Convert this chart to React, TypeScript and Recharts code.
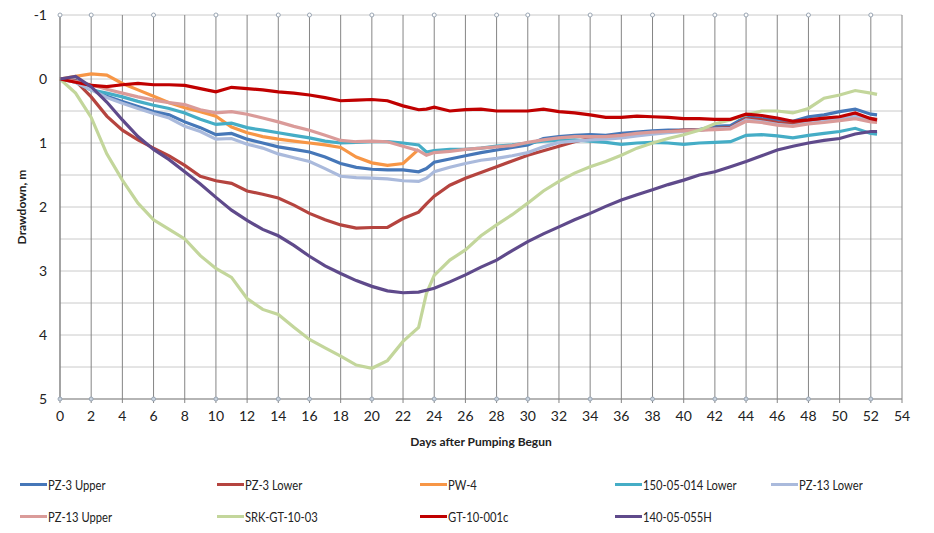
import { CartesianGrid, Line, LineChart, ReferenceDot, XAxis, YAxis } from "recharts";

// Sample days (23.5 added to catch the step when the pump stopped)
const days = [
  0, 1, 2, 3, 4, 5, 6, 7, 8, 9, 10, 11, 12, 13, 14, 15, 16, 17, 18, 19, 20, 21, 22, 23, 23.5,
  24, 25, 26, 27, 28, 29, 30, 31, 32, 33, 34, 35, 36, 37, 38, 39, 40, 41, 42, 43, 44, 45, 46,
  47, 48, 49, 50, 51, 52, 52.4,
];

// Drawdown in metres, one value per entry of `days`
const pz3Upper = [
  0, 0.02, 0.15, 0.27, 0.35, 0.43, 0.51, 0.56, 0.67, 0.76, 0.87, 0.85, 0.94, 1.0, 1.06, 1.1, 1.14,
  1.22, 1.32, 1.38, 1.41, 1.42, 1.42, 1.45, 1.4, 1.3, 1.25, 1.2, 1.15, 1.11, 1.07, 1.03, 0.93, 0.9,
  0.88, 0.87, 0.88, 0.85, 0.83, 0.81, 0.8, 0.8, 0.79, 0.74, 0.73, 0.59, 0.62, 0.64, 0.66, 0.59, 0.56,
  0.51, 0.47, 0.55, 0.56,
];
const pz3Lower = [
  0, 0.03, 0.28, 0.58, 0.8, 0.95, 1.08, 1.2, 1.35, 1.52, 1.59, 1.63, 1.75, 1.8, 1.86, 1.97, 2.1, 2.2,
  2.28, 2.33, 2.32, 2.32, 2.18, 2.08, 1.95, 1.83, 1.66, 1.55, 1.46, 1.37, 1.28, 1.19, 1.12, 1.05,
  0.98, 0.93, 0.9, 0.88, 0.86, 0.84, 0.82, 0.8, 0.8, 0.77, 0.76, 0.62, 0.64, 0.68, 0.7, 0.66, 0.63,
  0.6, 0.56, 0.62, 0.63,
];
const pw4 = [
  0, -0.04, -0.08, -0.06, 0.07, 0.17, 0.27, 0.37, 0.45, 0.51, 0.58, 0.75, 0.84, 0.9, 0.94, 0.97, 1.0,
  1.03, 1.07, 1.22, 1.31, 1.35, 1.32, 1.1,
];
const lower150 = [
  0, 0.05, 0.17, 0.22, 0.28, 0.35, 0.41, 0.46, 0.53, 0.63, 0.71, 0.69, 0.76, 0.8, 0.84, 0.88, 0.92,
  0.97, 1.0, 0.99, 0.98, 0.98, 1.0, 1.03, 1.14, 1.12, 1.1, 1.1, 1.08, 1.05, 1.03, 1.0, 0.97, 0.96,
  0.95, 0.97, 0.99, 1.02, 1.0, 0.99, 1.0, 1.02, 1.0, 0.99, 0.98, 0.88, 0.87, 0.89, 0.92, 0.88, 0.85,
  0.82, 0.77, 0.85, 0.86,
];
const pz13Lower = [
  0, 0.05, 0.17, 0.29, 0.38, 0.46, 0.54, 0.61, 0.74, 0.82, 0.94, 0.93, 1.02, 1.08, 1.17, 1.23, 1.29,
  1.4, 1.52, 1.54, 1.55, 1.56, 1.59, 1.6, 1.55, 1.45, 1.38, 1.32, 1.27, 1.24, 1.2, 1.15, 1.06, 0.99,
  0.97, 0.95, 0.94, 0.92, 0.89, 0.86, 0.84, 0.82, 0.8, 0.78, 0.77, 0.64, 0.67, 0.71, 0.73, 0.69,
  0.66, 0.62, 0.58, 0.64, 0.66,
];
const pz13Upper = [
  0, 0.04, 0.09, 0.16, 0.22, 0.28, 0.33, 0.37, 0.4, 0.48, 0.53, 0.51, 0.55, 0.61, 0.67, 0.74, 0.8,
  0.88, 0.96, 0.98, 0.97, 0.98, 1.05, 1.12, 1.19, 1.15, 1.13, 1.1, 1.08, 1.06, 1.04, 0.99, 0.95,
  0.92, 0.9, 0.9, 0.9, 0.88, 0.85, 0.83, 0.82, 0.81, 0.8, 0.79, 0.78, 0.66, 0.68, 0.72, 0.74, 0.7,
  0.68, 0.65, 0.62, 0.67, 0.68,
];
const srkGt1003 = [
  0, 0.22, 0.6, 1.17, 1.58, 1.94, 2.2, 2.35, 2.5, 2.76, 2.96, 3.1, 3.43, 3.6, 3.68, 3.88, 4.07, 4.2,
  4.33, 4.47, 4.52, 4.4, 4.1, 3.88, 3.35, 3.07, 2.83, 2.67, 2.45, 2.28, 2.12, 1.94, 1.75, 1.6, 1.47,
  1.37, 1.29, 1.19, 1.08, 1.0, 0.93, 0.87, 0.8, 0.7, 0.64, 0.56, 0.5, 0.5, 0.53, 0.46, 0.3, 0.25,
  0.18, 0.22, 0.24,
];
const gt10001c = [
  0, 0.05, 0.1, 0.12, 0.09, 0.07, 0.09, 0.09, 0.1, 0.15, 0.2, 0.13, 0.15, 0.17, 0.2, 0.22, 0.25,
  0.29, 0.34, 0.33, 0.32, 0.34, 0.42, 0.48, 0.47, 0.44, 0.5, 0.48, 0.47, 0.5, 0.5, 0.5, 0.47, 0.51,
  0.53, 0.56, 0.6, 0.6, 0.58, 0.59, 0.6, 0.62, 0.62, 0.63, 0.63, 0.55, 0.57, 0.61, 0.66, 0.64, 0.61,
  0.59, 0.53, 0.62, 0.64,
];
const well140055H = [
  0, -0.04, 0.12, 0.36, 0.64, 0.9, 1.1, 1.26, 1.45, 1.64, 1.85, 2.05, 2.21, 2.35, 2.45, 2.6, 2.77,
  2.92, 3.04, 3.15, 3.24, 3.31, 3.34, 3.33, 3.3, 3.27, 3.17, 3.06, 2.94, 2.83, 2.68, 2.54, 2.42,
  2.31, 2.2, 2.1, 1.99, 1.89, 1.81, 1.73, 1.65, 1.58, 1.5, 1.45, 1.37, 1.29, 1.2, 1.11, 1.05, 1.0,
  0.96, 0.93, 0.86, 0.82, 0.82,
];

const xTicks = [0, 2, 4, 6, 8, 10, 12, 14, 16, 18, 20, 22, 24, 26, 28, 30, 32, 34, 36, 38, 40, 42, 44, 46, 48, 50, 52, 54];
const yTicks = [-1, 0, 1, 2, 3, 4, 5];
const yGrid = [-1, -0.5, 0, 0.5, 1, 1.5, 2, 2.5, 3, 3.5, 4, 4.5, 5];
// days where the border carries a small marker
const markerDays = [0, 2, 6, 10, 14, 16, 20, 24, 28, 30, 34, 38, 42, 44, 48, 52];

const series = [
  { key: "pz3Upper", name: "PZ-3 Upper", color: "#4677b8", values: pz3Upper },
  { key: "pz3Lower", name: "PZ-3 Lower", color: "#b5443f", values: pz3Lower },
  { key: "pw4", name: "PW-4", color: "#f79646", values: pw4 },
  { key: "lower150", name: "150-05-014 Lower", color: "#45adc6", values: lower150 },
  { key: "pz13Lower", name: "PZ-13 Lower", color: "#aabadc", values: pz13Lower },
  { key: "pz13Upper", name: "PZ-13 Upper", color: "#da9b99", values: pz13Upper },
  { key: "srk", name: "SRK-GT-10-03", color: "#c3d69b", values: srkGt1003 },
  { key: "gt", name: "GT-10-001c", color: "#c00000", values: gt10001c },
  { key: "w140", name: "140-05-055H", color: "#5f4a8b", values: well140055H },
];

const data = days.map((day, i) => {
  const row: Record<string, number | null> = { day };
  series.forEach((s) => {
    row[s.key] = i < s.values.length ? s.values[i] : null;
  });
  return row;
});

const font = "Lato, 'Open Sans', sans-serif";
const legendCols = [20, 217, 420, 615, 771];

function LegendBlock() {
  return (
    <div style={{ position: "absolute", left: 0, top: 474, width: 934, height: 60, fontFamily: font, fontSize: 14, color: "#222" }}>
      {series.map((s, i) => (
        <div
          key={s.key}
          style={{
            position: "absolute",
            left: legendCols[i % 5],
            top: i < 5 ? 0 : 32,
            display: "flex",
            alignItems: "center",
            height: 20,
          }}
        >
          <span style={{ display: "inline-block", width: 27, height: 3, background: s.color, marginRight: 1 }} />
          {/* condensed label text */}
          <span style={{ display: "inline-block", transform: "scaleX(0.8)", transformOrigin: "left center", whiteSpace: "nowrap" }}>
            {s.name}
          </span>
        </div>
      ))}
    </div>
  );
}

export default function App() {
  return (
    <div style={{ position: "absolute", left: 0, top: 0, width: 934, height: 533, background: "#fff" }}>
      <LineChart width={934} height={474} data={data} margin={{ top: 15, right: 32, bottom: 15, left: 0 }}>
        <CartesianGrid horizontal={true} vertical={false} horizontalValues={yGrid} stroke="#cacaca" />
        <CartesianGrid horizontal={false} vertical={true} verticalValues={xTicks} stroke="#858585" />
        <XAxis
          dataKey="day"
          type="number"
          domain={[0, 54]}
          ticks={xTicks}
          interval={0}
          stroke="#858585"
          tickSize={4}
          tickMargin={8}
          height={60}
          tick={{ fontFamily: font, fontSize: 14, fill: "#222" }}
          label={{
            value: "Days after Pumping Begun",
            position: "insideBottom",
            offset: 13,
            style: { fontFamily: font, fontSize: 12, fontWeight: 700, fill: "#222" },
          }}
        />
        <YAxis
          type="number"
          reversed
          domain={[-1, 5]}
          ticks={yTicks}
          interval={0}
          width={60}
          stroke="#858585"
          tickLine={false}
          tickSize={0}
          tickMargin={13}
          tick={{ fontFamily: font, fontSize: 14, fill: "#222" }}
          label={{
            value: "Drawdown, m",
            angle: -90,
            position: "insideLeft",
            offset: 22,
            style: { textAnchor: "middle", fontFamily: font, fontSize: 12, fontWeight: 700, fill: "#222" },
          }}
        />
        {series.map((s) => (
          <Line
            key={s.key}
            type="linear"
            dataKey={s.key}
            name={s.name}
            stroke={s.color}
            strokeWidth={3.2}
            dot={false}
            activeDot={false}
            connectNulls={false}
            isAnimationActive={false}
          />
        ))}
        {markerDays.map((d) => (
          <ReferenceDot key={`t${d}`} x={d} y={-1} r={2} fill="#fff" stroke="#9aa6b4" ifOverflow="visible" />
        ))}
        {markerDays.map((d) => (
          <ReferenceDot key={`b${d}`} x={d} y={5} r={2} fill="#c9d3de" stroke="#9aa6b4" ifOverflow="visible" />
        ))}
      </LineChart>
      <LegendBlock />
    </div>
  );
}
